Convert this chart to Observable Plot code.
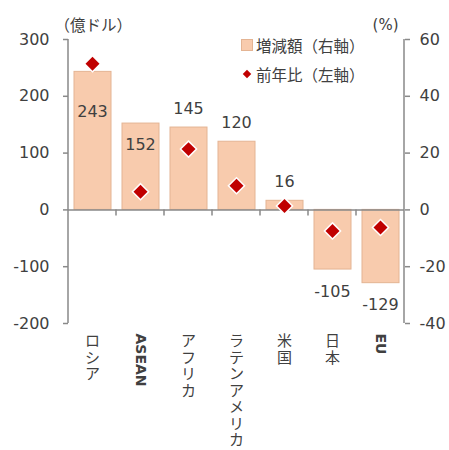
<!DOCTYPE html>
<html><head><meta charset="utf-8">
<script src="https://cdn.jsdelivr.net/npm/d3@7"></script>
<script src="https://cdn.jsdelivr.net/npm/@observablehq/plot@0.6"></script>
<style>
body{margin:0;background:#fff;}
#wrap{position:relative;width:449px;height:450px;}
#legend{position:absolute;left:241px;top:35px;font-family:"Noto Sans CJK JP",sans-serif;font-size:15.5px;color:#404040;}
.row{display:flex;align-items:center;height:20px;margin-bottom:8.5px;white-space:nowrap;}
.sw{width:12px;display:flex;justify-content:center;align-items:center;margin-right:3px;}
</style></head><body><div id="wrap"><div id="chart"></div><div id="legend"></div></div>
<script>
// ---- data ----
const categories = ["ロシア","ASEAN","アフリカ","ラテンアメリカ","米国","日本","EU"];
const changeValues = [243, 152, 145, 120, 16, -105, -129];   // 増減額（億ドル）
const yoyPercent = [51.5, 6.4, 21.4, 8.5, 1.4, -7.4, -6.2];   // 前年比（%）
const leftTicks = [-200, -100, 0, 100, 200, 300];
const rightTicks = [-40, -20, 0, 20, 40, 60];
const leftUnit = "（億ドル）";
const rightUnit = "(%)";
const legendLabels = ["増減額（右軸）", "前年比（左軸）"];

// ---- derived ----
const ratio = leftTicks[leftTicks.length - 1] / rightTicks[rightTicks.length - 1];
const rows = categories.map((c, i) => ({cat: c, value: changeValues[i], pct: yoyPercent[i]}));
const insideBig = new Set(["ロシア"]);
const insideSmall = new Set(["ASEAN"]);
const isLatin = c => /^[A-Za-z]+$/.test(c);

const FONT = '"DejaVu Sans","Noto Sans CJK JP",sans-serif';
const TXT = "#404040";
const AX = "#898989";
const BAR = "#F8CBAD", BAR_STROKE = "#E4B493", RED = "#C00000";

const plot = Plot.plot({
  width: 449, height: 450,
  marginLeft: 68, marginRight: 45, marginTop: 39, marginBottom: 127,
  x: {domain: categories, padding: 0, axis: null},
  y: {domain: [leftTicks[0], leftTicks[leftTicks.length - 1]]},
  style: {fontFamily: FONT, fontSize: "16px", color: TXT, background: "white"},
  marks: [
    Plot.barY(rows, {x: "cat", y: "value", fill: BAR, stroke: BAR_STROKE, strokeWidth: 1, insetLeft: 6, insetRight: 5}),
    Plot.ruleY([0], {stroke: AX, strokeWidth: 1.5}),
    Plot.axisY({anchor: "left", ticks: leftTicks, tickFormat: d => String(d), tickSize: 5, tickPadding: 14, stroke: AX, strokeWidth: 1.5, fill: TXT, fontSize: 16, label: null}),
    Plot.axisY({anchor: "right", ticks: rightTicks.map(t => t * ratio), tickFormat: d => String(d / ratio), tickSize: 5, tickPadding: 10, stroke: AX, strokeWidth: 1.5, fill: TXT, fontSize: 16, label: null}),
    // value labels
    Plot.text(rows.filter(d => insideBig.has(d.cat)), {x: "cat", y: "value", text: d => String(d.value), dy: 40, fill: TXT, fontSize: 16}),
    Plot.text(rows.filter(d => insideSmall.has(d.cat)), {x: "cat", y: "value", text: d => String(d.value), dy: 21, fill: TXT, fontSize: 16}),
    Plot.text(rows.filter(d => !insideBig.has(d.cat) && !insideSmall.has(d.cat) && d.value >= 0), {x: "cat", y: "value", text: d => String(d.value), dy: -19, fill: TXT, fontSize: 16}),
    Plot.text(rows.filter(d => d.value < 0), {x: "cat", y: "value", text: d => String(d.value), dy: 22, fill: TXT, fontSize: 16}),
    // diamonds (前年比)
    Plot.dot(rows, {x: "cat", y: d => d.pct * ratio, symbol: "diamond2", r: 6.3, fill: RED, stroke: "white", strokeWidth: 3, paintOrder: "stroke"}),
    // category labels
    Plot.text(categories.filter(c => !isLatin(c)), {x: d => d, text: d => [...d].join("\n"), frameAnchor: "bottom", lineAnchor: "top", dy: 11, lineHeight: 1.1, fontSize: 15, fill: TXT}),
    Plot.text(categories.filter(isLatin), {x: d => d, text: d => d, frameAnchor: "bottom", rotate: 90, textAnchor: "start", lineAnchor: "middle", dy: 10, fontSize: 14, fontWeight: "bold", fill: TXT}),
    // unit titles
    Plot.text([leftUnit], {text: d => d, frameAnchor: "top-left", textAnchor: "start", dx: -14, dy: -20, fontSize: 15.5, fill: TXT}),
    Plot.text([rightUnit], {text: d => d, frameAnchor: "top-right", textAnchor: "end", dx: -6, dy: -20, fontSize: 15, fill: TXT})
  ]
});

// axis lines and category boundary ticks from the library's scales
const sx = plot.scale("x"), sy = plot.scale("y");
const svg = d3.select(plot);
const g = svg.append("g").attr("stroke", AX).attr("stroke-width", 1.5).attr("fill", "none");
const [x0, x1] = [sx.range[0], sx.range[1]];
const [yb, yt] = [sy.range[0], sy.range[1]];
g.append("line").attr("x1", x0).attr("x2", x0).attr("y1", yt).attr("y2", yb);
g.append("line").attr("x1", x1).attr("x2", x1).attr("y1", yt).attr("y2", yb);
const yz = sy.apply(0);
categories.slice(1).forEach(c => {
  const xb = sx.apply(c);
  g.append("line").attr("x1", xb).attr("x2", xb).attr("y1", yz).attr("y2", yz + 6);
});
document.getElementById("chart").appendChild(plot);

// legend
const leg = d3.select("#legend");
const r1 = leg.append("div").attr("class", "row");
r1.append("div").attr("class", "sw").append("div")
  .style("width", "10px").style("height", "10px").style("background", BAR).style("border", `1px solid ${BAR_STROKE}`);
r1.append("span").text(legendLabels[0]);
const r2 = leg.append("div").attr("class", "row");
r2.append("div").attr("class", "sw").append("div")
  .style("width", "6px").style("height", "6px").style("background", RED).style("transform", "rotate(45deg)");
r2.append("span").text(legendLabels[1]);
</script>
</body></html>
